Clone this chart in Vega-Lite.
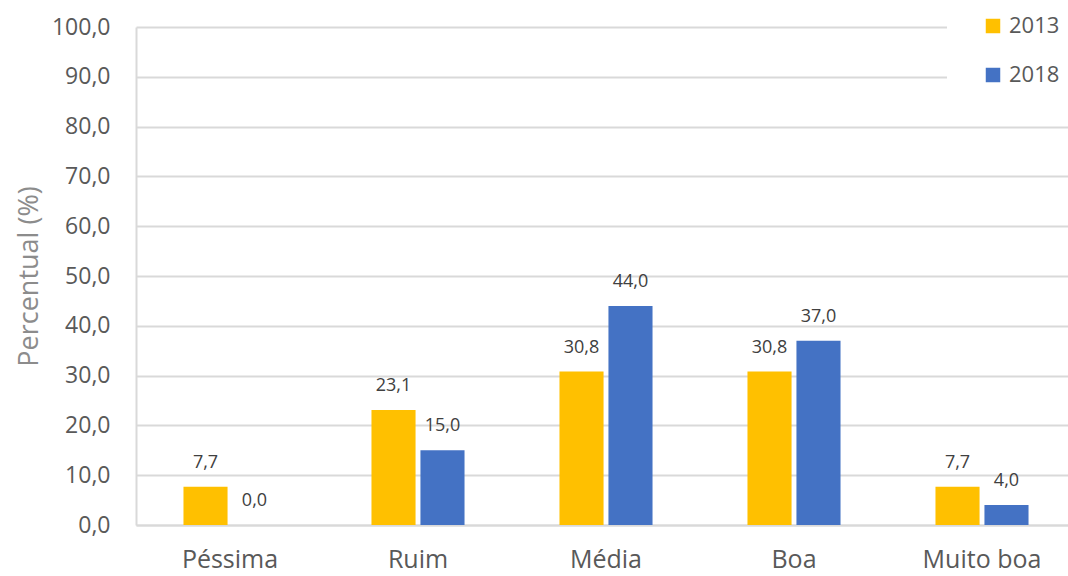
{
  "$schema": "https://vega.github.io/schema/vega-lite/v6.json",
  "autosize": {"type": "none"},
  "width": 940,
  "height": 498,
  "padding": {"left": 136, "top": 27, "right": 0, "bottom": 51},
  "background": "white",
  "config": {
    "view": {"stroke": null},
    "font": "Open Sans",
    "locale": {"number": {"decimal": ",", "thousands": ".", "grouping": [3], "currency": ["", ""]}}
  },
  "data": {
    "values": [
      {"cat": "Péssima", "ano": "2013", "v": 7.7},
      {"cat": "Péssima", "ano": "2018", "v": 0.0},
      {"cat": "Ruim", "ano": "2013", "v": 23.1},
      {"cat": "Ruim", "ano": "2018", "v": 15.0},
      {"cat": "Média", "ano": "2013", "v": 30.8},
      {"cat": "Média", "ano": "2018", "v": 44.0},
      {"cat": "Boa", "ano": "2013", "v": 30.8},
      {"cat": "Boa", "ano": "2018", "v": 37.0},
      {"cat": "Muito boa", "ano": "2013", "v": 7.7},
      {"cat": "Muito boa", "ano": "2018", "v": 4.0}
    ]
  },
  "encoding": {
    "x": {
      "field": "cat", "type": "nominal", "sort": null,
      "scale": {"paddingInner": 0.505, "paddingOuter": 0.2525},
      "axis": {"title": null, "labelAngle": 0, "labelFontSize": 25, "labelColor": "#595959",
               "labelPadding": 22, "ticks": false, "domainColor": "#d9d9d9", "domainWidth": 2}
    },
    "xOffset": {"field": "ano", "type": "nominal", "scale": {"paddingInner": 0.1}},
    "y": {
      "field": "v", "type": "quantitative",
      "scale": {"domain": [0, 100], "nice": false},
      "axis": {"title": "Percentual (%)", "titleFontSize": 27, "titleFontWeight": "normal", "titleColor": "#8c8c8c",
               "titlePadding": 8, "values": [0,10,20,30,40,50,60,70,80,90,100],
               "format": ".1f", "labelOverlap": false, "labelBound": false, "labelFlush": false,
               "labelFontSize": 23, "labelColor": "#595959", "labelPadding": 26, "ticks": false,
               "domainColor": "#d9d9d9", "domainWidth": 2,
               "grid": true, "gridColor": "#d9d9d9", "gridWidth": 2}
    }
  },
  "layer": [
    {
      "mark": {"type": "bar"},
      "encoding": {
        "color": {
          "field": "ano", "type": "nominal",
          "scale": {"domain": ["2013", "2018"], "range": ["#FFC000", "#4472C4"]},
          "legend": {"title": null, "orient": "none", "legendX": 811, "legendY": -47,
                     "padding": 35, "fillColor": "white", "symbolType": "square", "symbolSize": 210,
                     "symbolStrokeWidth": 0, "labelFontSize": 22, "labelColor": "#595959",
                     "rowPadding": 27, "labelOffset": 5}
        }
      }
    },
    {
      "mark": {"type": "text", "dy": -15, "baseline": "bottom", "fontSize": 18, "color": "#404040"},
      "encoding": {
        "text": {"field": "v", "type": "quantitative", "format": ".1f"},
        "detail": {"field": "ano"}
      }
    }
  ]
}
